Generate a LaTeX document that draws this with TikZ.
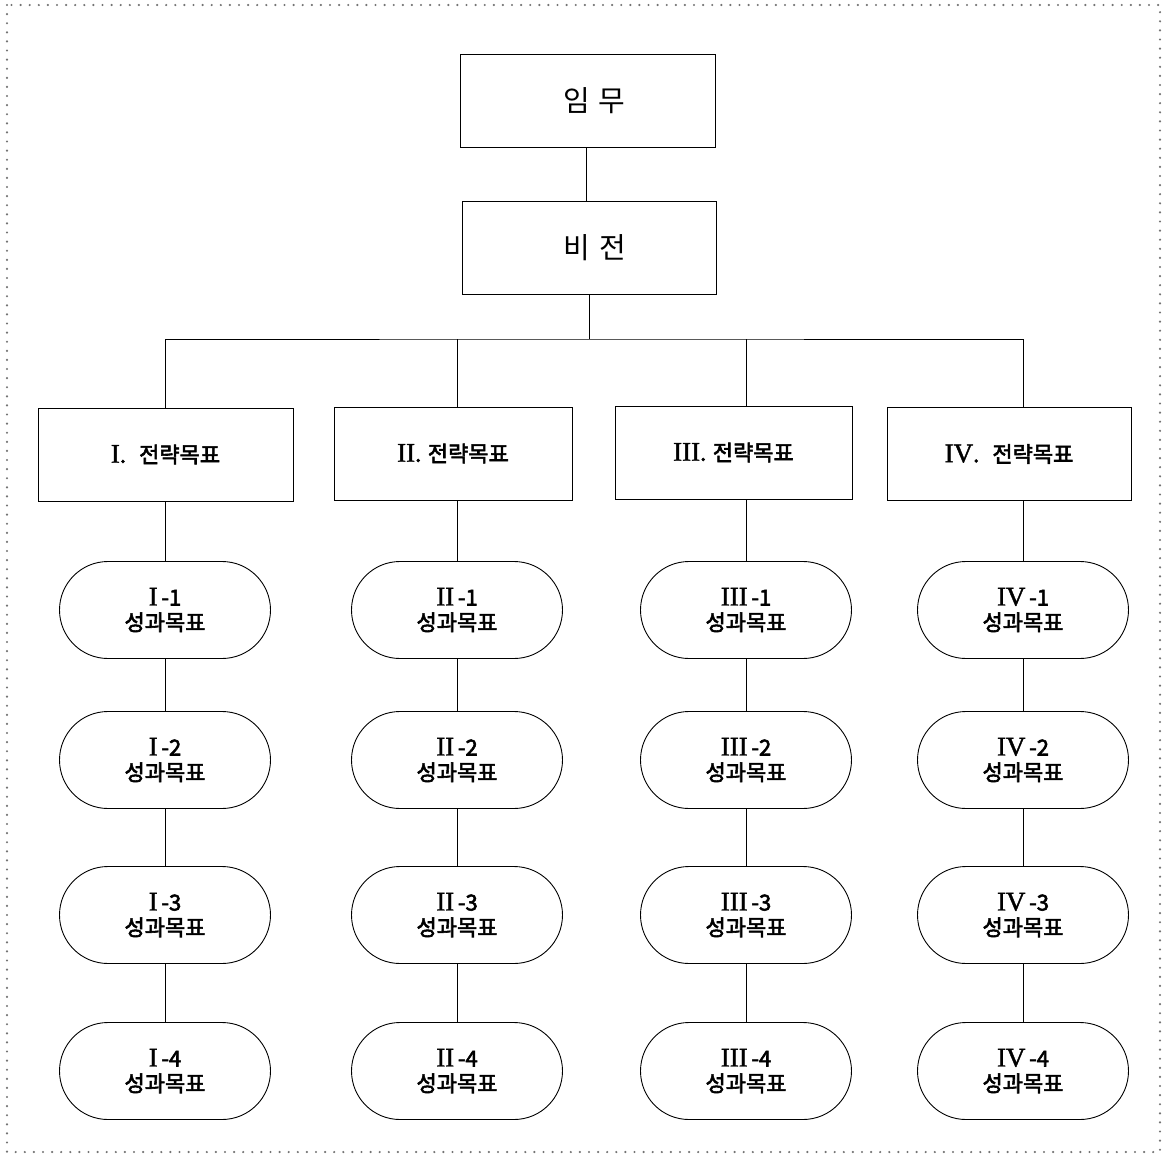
\documentclass[tikz,border=0pt]{standalone}
\usepackage{fontspec}
\setmainfont{Noto Sans CJK KR}
\newfontfamily\krmed[FakeBold=2.6]{Noto Sans CJK KR}
\newfontfamily\romfont[FakeBold=1.5]{Liberation Serif}
\newcommand{\rn}[1]{{\romfont\fontsize{27}{25}\selectfont #1}}
\usetikzlibrary{shapes.misc}
\begin{document}
\begin{tikzpicture}[x=1pt,y=-1pt,
  topbox/.style={draw, line width=0.9pt, minimum width=255pt, minimum height=93pt, inner sep=0pt, font=\fontsize{29}{32}\selectfont},
  stratbox/.style={draw, line width=0.9pt, minimum height=93pt, inner sep=0pt, font=\krmed\fontsize{22}{24}\selectfont},
  goal/.style={draw, line width=0.9pt, rounded rectangle, minimum width=211pt, minimum height=97pt, inner sep=0pt, align=center, font=\krmed\fontsize{22}{25}\selectfont},
  conn/.style={line width=0.9pt}
]
\useasboundingbox (0,0) rectangle (1165,1157);
\draw[gray!90!black, line width=2.4pt, line cap=round, dash pattern=on 0pt off 9.1pt] (7,5) rectangle (1160,1152);

\node[topbox] (mission) at (587.5,100.5) {\hspace{14pt}임\hspace{0.3em}무};
\node[topbox, minimum width=254pt] (vision) at (589,247.5) {\hspace{12pt}비\hspace{0.3em}전};

\node[stratbox, minimum width=255pt] (s1) at (165.5,454.5) {\rn{I}.\hspace{0.6em}전략목표};
\node[stratbox, minimum width=238pt] (s2) at (453,453.5) {\rn{II}.\hspace{0.3em}전략목표};
\node[stratbox, minimum width=237pt] (s3) at (733.5,452.5) {\rn{III}.\hspace{0.3em}전략목표};
\node[stratbox, minimum width=244pt] (s4) at (1009,454) {\rn{IV}.\hspace{0.6em}전략목표};

\foreach \c/\n/\x in {1/I/165, 2/II/457, 3/III/746, 4/IV/1023}{
  \foreach \r/\y in {1/610, 2/760, 3/915, 4/1071}{
    \node[goal] (g\c\r) at (\x,\y) {\rn{\n}\,-\r\\성과목표};
  }
}

\coordinate (bus) at (589,339);
\draw[conn] (mission.south -| 586,0) -- (vision.north -| 586,0);
\draw[conn] (vision.south -| bus) -- (bus);
\draw[conn] (s1.north -| g11.north) |- (bus) -| (s4.north -| g41.north);
\draw[conn] (s2.north -| g21.north) -- (g21.north |- bus);
\draw[conn] (s3.north -| g31.north) -- (g31.north |- bus);
\foreach \c in {1,2,3,4}{
  \draw[conn] (s\c.south -| g\c1.north) -- (g\c1.north);
  \draw[conn] (g\c1.south) -- (g\c2.north);
  \draw[conn] (g\c2.south) -- (g\c3.north);
  \draw[conn] (g\c3.south) -- (g\c4.north);
}
\end{tikzpicture}
\end{document}
